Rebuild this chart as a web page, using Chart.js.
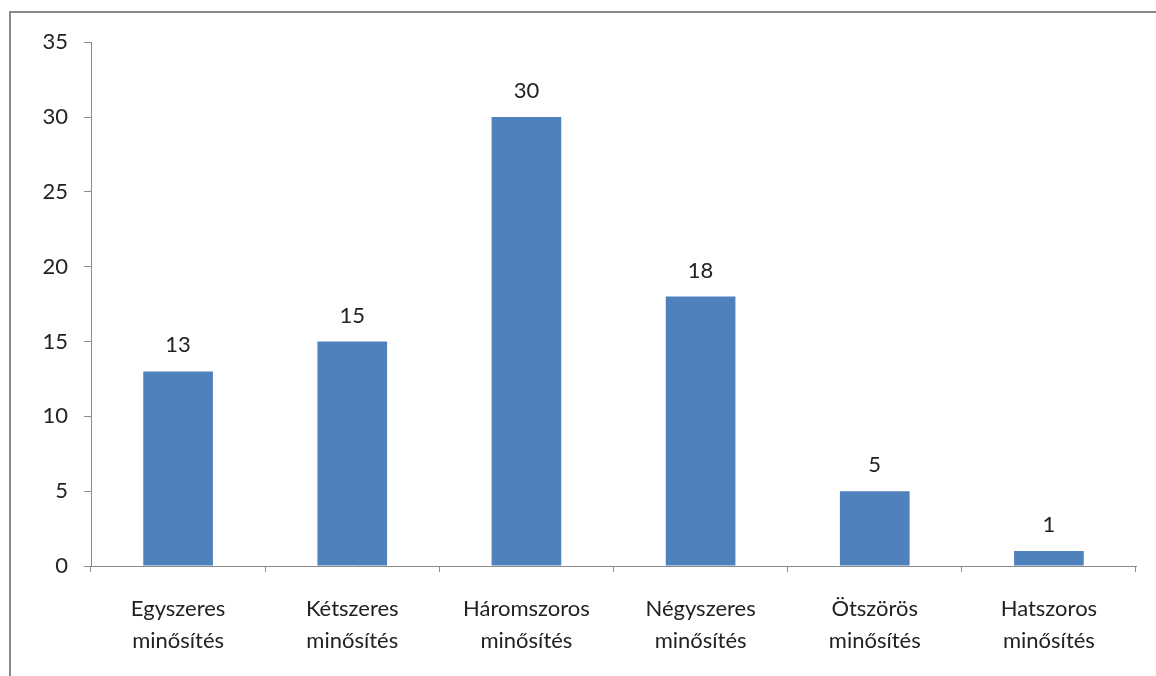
<!DOCTYPE html>
<html>
<head>
<meta charset="utf-8">
<script src="https://cdn.jsdelivr.net/npm/chart.js@4"></script>
<style>
  html, body { margin: 0; padding: 0; background: #fff; }
  #frame { position: absolute; left: 9px; top: 11px; width: 1147px; height: 665px;
           border-left: 2px solid #8a8a8a; border-top: 2px solid #8a8a8a; }
  #wrap { position: absolute; left: 0; top: 0; width: 1145px; height: 663px; }
</style>
</head>
<body>
<div id="frame"><div id="wrap"><canvas id="c"></canvas></div></div>
<script>
const categories = [
  ["Egyszeres", "minősítés"],
  ["Kétszeres", "minősítés"],
  ["Háromszoros", "minősítés"],
  ["Négyszeres", "minősítés"],
  ["Ötszörös", "minősítés"],
  ["Hatszoros", "minősítés"]
];
const values = [13, 15, 30, 18, 5, 1];
const yMin = 0, yMax = 35, yStep = 5;

const FONT = "Lato, 'Open Sans', sans-serif";
const TEXT = "#222";
const AXIS = "#8a8a8a";

const valueLabels = {
  id: 'valueLabels',
  afterDatasetsDraw(chart) {
    const ctx = chart.ctx;
    const meta = chart.getDatasetMeta(0);
    ctx.save();
    ctx.font = "22px " + FONT;
    ctx.fillStyle = TEXT;
    ctx.textAlign = 'center';
    ctx.textBaseline = 'alphabetic';
    meta.data.forEach((bar, i) => {
      ctx.fillText(String(values[i]), bar.x, bar.y - 19);
    });
    ctx.restore();
  }
};

new Chart(document.getElementById('c'), {
  type: 'bar',
  data: {
    labels: categories,
    datasets: [{
      data: values,
      backgroundColor: '#4F81BD',
      borderWidth: 0,
      categoryPercentage: 1.0,
      barPercentage: 0.4
    }]
  },
  options: {
    responsive: true,
    maintainAspectRatio: false,
    animation: false,
    layout: { padding: { left: 0, right: 20, top: 0, bottom: 0 } },
    plugins: { legend: { display: false }, tooltip: { enabled: false } },
    scales: {
      x: {
        grid: { display: true, drawOnChartArea: false, drawTicks: true, tickLength: 6, color: AXIS, offset: true },
        border: { display: true, color: AXIS, width: 1 },
        ticks: { color: TEXT, font: { family: FONT, size: 22, lineHeight: 1.45 }, padding: 21, maxRotation: 0, autoSkip: false },
        afterFit(scale) { scale.height = 110; }
      },
      y: {
        min: yMin, max: yMax,
        grid: { display: true, drawOnChartArea: false, drawTicks: true, tickLength: 7, color: AXIS },
        border: { display: true, color: AXIS, width: 1 },
        ticks: { stepSize: yStep, color: TEXT, font: { family: FONT, size: 22 }, padding: 16 },
        afterFit(scale) { scale.width = 80; }
      }
    }
  },
  plugins: [valueLabels]
});
</script>
</body>
</html>
